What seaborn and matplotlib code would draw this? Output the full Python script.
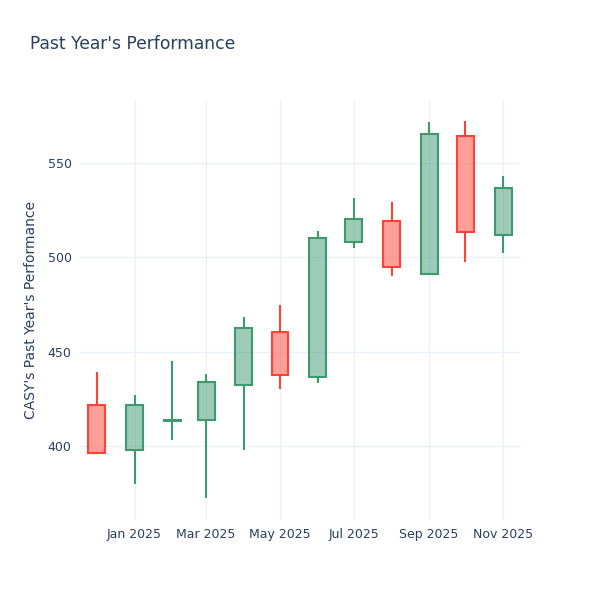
import pandas as pd
import matplotlib
matplotlib.use("Agg")
import matplotlib.pyplot as plt
import matplotlib.dates as mdates
import seaborn as sns

# Monthly candles
months = ["2024-12-01", "2025-01-01", "2025-02-01", "2025-03-01", "2025-04-01", "2025-05-01",
          "2025-06-01", "2025-07-01", "2025-08-01", "2025-09-01", "2025-10-01", "2025-11-01"]
opens = [421.7, 397.9, 413.4, 413.8, 432.3, 460.6, 436.7, 508.0, 519.4, 491.0, 564.3, 511.7]
highs = [439.4, 427.0, 445.0, 438.0, 468.5, 474.7, 514.0, 531.3, 529.5, 571.5, 572.2, 543.1]
lows = [395.9, 380.0, 403.0, 372.4, 397.9, 430.2, 433.5, 504.8, 490.2, 491.0, 497.7, 502.1]
closes = [396.5, 421.7, 414.0, 433.9, 462.5, 437.6, 510.0, 520.1, 494.7, 565.2, 513.2, 536.6]

df = pd.DataFrame({"date": pd.to_datetime(months), "open": opens, "high": highs,
                   "low": lows, "close": closes})
df["up"] = df["close"] >= df["open"]
df["top"] = df[["open", "close"]].max(axis=1)
df["bottom"] = df[["open", "close"]].min(axis=1)

sns.set_style("whitegrid", {"grid.color": "#EBF0F8", "axes.edgecolor": "white"})
plt.rcParams["font.family"] = ["DejaVu Sans"]

inc_color = "#3D9970"
dec_color = "#FF4136"
text_color = "#2a3f5f"

fig = plt.figure(figsize=(6, 6), dpi=100)
ax = fig.add_axes([80 / 600, 80 / 600, 440 / 600, 420 / 600])

for _, row in df.iterrows():
    c = inc_color if row["up"] else dec_color
    ax.vlines(row["date"], row["top"], row["high"], color=c, linewidth=1.5, zorder=2)
    ax.vlines(row["date"], row["low"], row["bottom"], color=c, linewidth=1.5, zorder=2)
    height = max(row["top"] - row["bottom"], 0.3)
    ax.bar(row["date"], height, bottom=row["bottom"], width=14,
           color=c, alpha=0.5, zorder=3, linewidth=0)
    ax.bar(row["date"], height, bottom=row["bottom"], width=14,
           fill=False, edgecolor=c, linewidth=1.5, zorder=4)

ax.set_xlim(pd.Timestamp("2024-11-17"), pd.Timestamp("2025-11-15"))
ax.set_ylim(360.8, 583.4)
ax.set_yticks([400, 450, 500, 550])
ax.xaxis.set_major_locator(mdates.MonthLocator(bymonth=[1, 3, 5, 7, 9, 11]))
ax.xaxis.set_major_formatter(mdates.DateFormatter("%b %Y"))
ax.tick_params(axis="both", colors=text_color, labelsize=9, length=0, pad=6)
for s in ax.spines.values():
    s.set_visible(False)
ax.grid(True, color="#EBF0F8", linewidth=1)
ax.set_axisbelow(True)

ax.set_ylabel("CASY's Past Year's Performance", fontsize=10, color=text_color, labelpad=7)
fig.text(30 / 600, 1 - 44 / 600, "Past Year's Performance", fontsize=12.3,
         color=text_color, va="center", ha="left")

fig.savefig("out.png", dpi=100)
